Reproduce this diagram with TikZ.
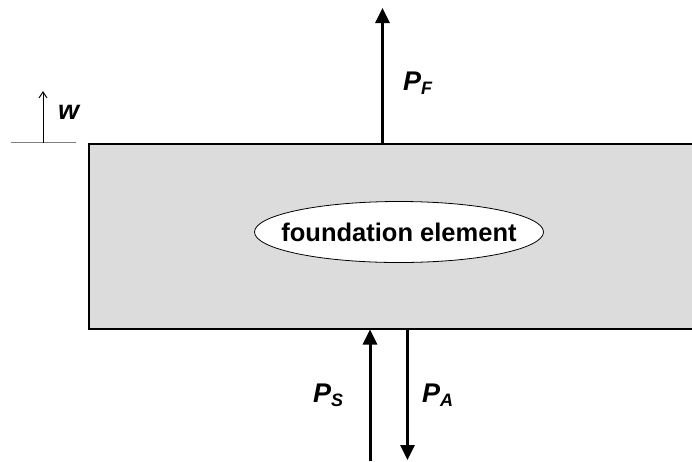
\documentclass[tikz,border=0pt]{standalone}
\usepackage{fontspec}
\setmainfont{Liberation Sans}
\usetikzlibrary{arrows.meta,shapes.geometric}
\definecolor{slab}{HTML}{DCDCDC}
\begin{document}
\begin{tikzpicture}[x=1pt,y=-1pt,
  lbl/.style={font=\fontsize{27}{27}\selectfont\bfseries\itshape, inner sep=0pt, anchor=base west},
  force/.style={line width=3pt,-{Triangle[width=14pt,length=15pt]}}]
\newcommand{\sbx}[1]{\raisebox{-4.5pt}{\fontsize{18}{18}\selectfont #1}}
\useasboundingbox (0,0) rectangle (692,461);
% foundation slab
\node[draw, line width=2pt, fill=slab, rectangle, anchor=north west,
      minimum width=660pt, minimum height=185pt, inner sep=0pt] (slab) at (88,143.3) {};
% ellipse with its text
\node[draw, fill=white, ellipse, line width=0.8pt, minimum width=289pt, minimum height=61pt,
      inner xsep=-18pt, inner ysep=0pt, font=\fontsize{25.5}{25.5}\selectfont\bfseries] (elem) at (399,232) {foundation element};
% coordinates for forces
\coordinate (pfbase) at (382.5,143.3);
\coordinate (pftip) at (382.5,8);
\coordinate (psbase) at (370,461);
\coordinate (pstip) at (370,329.5);
\coordinate (pabase) at (407.5,329.5);
\coordinate (patip) at (407.5,460);
\draw[force] (pfbase) -- (pftip);
\draw[force] (psbase) -- (pstip);
\draw[force] (pabase) -- (patip);
% labels
\node[lbl] (pf) at (403,90) {P\sbx{F}};
\node[lbl] (ps) at (313,402) {P\sbx{S}};
\node[lbl] (pa) at (422,402) {P\sbx{A}};
% displacement w
\coordinate (wl) at (11,142.5);
\coordinate (wr) at (76,142.5);
\coordinate (wbase) at (43,142.5);
\coordinate (wtip) at (43,91);
\draw[line width=1.2pt, draw=gray] (wl) -- (wr);
\draw[line width=1pt, -{Straight Barb[length=6pt,width=8pt]}] (wbase) -- (wtip);
\node[lbl] (w) at (58,119) {w};
\end{tikzpicture}
\end{document}
